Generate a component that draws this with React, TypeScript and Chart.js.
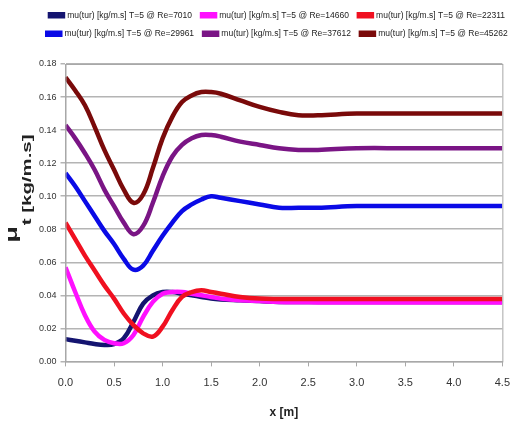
import React, { useEffect, useRef } from "react";
import { Chart, registerables } from "chart.js";

Chart.register(...registerables);

const xPositions = [0, 0.1, 0.2, 0.3, 0.4, 0.5, 0.6, 0.7, 0.8, 0.9, 1.0, 1.1, 1.2, 1.3, 1.4, 1.5, 1.6, 1.8, 2.0, 2.2, 2.4, 2.6, 3.0, 3.5, 4.0, 4.5];

const seriesLabels = [
  "mu(tur) [kg/m.s] T=5 @ Re=7010",
  "mu(tur) [kg/m.s] T=5 @ Re=14660",
  "mu(tur) [kg/m.s] T=5 @ Re=22311",
  "mu(tur) [kg/m.s] T=5 @ Re=29961",
  "mu(tur) [kg/m.s] T=5 @ Re=37612",
  "mu(tur) [kg/m.s] T=5 @ Re=45262",
];

const re7010 = [0.0135, 0.0125, 0.0115, 0.0105, 0.010, 0.0105, 0.014, 0.024, 0.035, 0.040, 0.042, 0.042, 0.041, 0.040, 0.039, 0.038, 0.0375, 0.037, 0.0365, 0.036, 0.036, 0.036, 0.036, 0.036, 0.036, 0.036];
const re14660 = [0.057, 0.042, 0.028, 0.018, 0.013, 0.011, 0.011, 0.016, 0.027, 0.036, 0.041, 0.042, 0.042, 0.041, 0.040, 0.039, 0.038, 0.037, 0.0365, 0.036, 0.0358, 0.0357, 0.0356, 0.0356, 0.0356, 0.0356];
const re22311 = [0.084, 0.074, 0.064, 0.055, 0.046, 0.038, 0.029, 0.022, 0.017, 0.015, 0.021, 0.031, 0.039, 0.042, 0.043, 0.042, 0.041, 0.039, 0.038, 0.0378, 0.0378, 0.0378, 0.0378, 0.0378, 0.0378, 0.0378];
const re29961 = [0.114, 0.106, 0.097, 0.088, 0.079, 0.071, 0.062, 0.0555, 0.058, 0.067, 0.076, 0.084, 0.091, 0.095, 0.098, 0.100, 0.099, 0.097, 0.095, 0.093, 0.093, 0.093, 0.094, 0.094, 0.094, 0.094];
const re37612 = [0.143, 0.135, 0.126, 0.116, 0.104, 0.094, 0.084, 0.077, 0.082, 0.096, 0.112, 0.124, 0.131, 0.135, 0.137, 0.137, 0.136, 0.133, 0.131, 0.129, 0.128, 0.128, 0.129, 0.129, 0.129, 0.129];
const re45262 = [0.172, 0.164, 0.155, 0.142, 0.128, 0.116, 0.104, 0.096, 0.101, 0.117, 0.135, 0.148, 0.157, 0.161, 0.163, 0.163, 0.162, 0.158, 0.154, 0.151, 0.149, 0.149, 0.150, 0.150, 0.150, 0.150];

const seriesValues = [re7010, re14660, re22311, re29961, re37612, re45262];
const seriesColors = ["#141470", "#ff10ff", "#f01020", "#0a0ae6", "#7a1585", "#7a0a0a"];
const drawOrder = [5, 2, 1, 4, 4, 4];

const yTickValues = [0, 0.02, 0.04, 0.06, 0.08, 0.1, 0.12, 0.14, 0.16, 0.18];
const xTickValues = [0, 0.5, 1.0, 1.5, 2.0, 2.5, 3.0, 3.5, 4.0, 4.5];

const FONT = "'Liberation Sans', Arial, sans-serif";

const legendGap = {
  id: "legendGap",
  beforeInit(chart: any) {
    const legend = chart.legend;
    if (!legend) return;
    const origFit = legend.fit;
    legend.fit = function () {
      origFit.call(this);
      this.height += 16;
    };
  },
};

const frameAndTitle = {
  id: "frameAndTitle",
  afterDraw(chart: any) {
    const { ctx, chartArea } = chart;
    ctx.save();
    ctx.strokeStyle = "#a8a8a8";
    ctx.lineWidth = 1;
    ctx.strokeRect(chartArea.left + 0.5, chartArea.top + 0.5, chartArea.right - chartArea.left, chartArea.bottom - chartArea.top);
    ctx.restore();
    // y axis title: mu with subscript t [kg/m.s]
    ctx.save();
    const mid = (chartArea.top + chartArea.bottom) / 2;
    ctx.translate(17, mid + 30);
    ctx.rotate(-Math.PI / 2);
    ctx.scale(1.7, 1);
    ctx.fillStyle = "#222";
    ctx.textBaseline = "alphabetic";
    ctx.textAlign = "left";
    ctx.font = "bold 16px " + FONT;
    ctx.fillText("\u03bc", 0, 0);
    const w = ctx.measureText("\u03bc").width;
    ctx.font = "bold 12px " + FONT;
    ctx.fillText("t [kg/m.s]", w + 0.5, 14);
    ctx.restore();
  },
};

export default function App() {
  const canvasRef = useRef<HTMLCanvasElement | null>(null);

  useEffect(() => {
    const canvas = canvasRef.current;
    if (!canvas) return;
    const datasets = seriesLabels.map((label, i) => ({
      label,
      data: xPositions.map((x, j) => ({ x, y: seriesValues[i][j] })),
      borderColor: seriesColors[i],
      backgroundColor: seriesColors[i],
      borderWidth: 4.5,
      pointRadius: 0,
      tension: 0.4,
      fill: false,
      order: drawOrder[i],
    }));
    const chart = new Chart(canvas, {
      type: "line",
      data: { datasets },
      options: {
        animation: false,
        responsive: false,
        maintainAspectRatio: false,
        layout: { padding: { left: 35, right: 0, top: 1, bottom: 8 } },
        plugins: {
          legend: {
            position: "top",
            labels: {
              font: { family: FONT, size: 8.5 },
              color: "#222",
              boxWidth: 13,
              boxHeight: 2,
              padding: 10,
              sort: (a: any, b: any) => a.datasetIndex - b.datasetIndex,
            },
          },
          tooltip: { enabled: false },
        },
        scales: {
          x: {
            type: "linear",
            min: 0,
            max: 4.5,
            afterBuildTicks: (axis: any) => {
              axis.ticks = xTickValues.map((v) => ({ value: v }));
            },
            ticks: {
              callback: (v: any) => Number(v).toFixed(1),
              font: { family: FONT, size: 11 },
              color: "#333",
              padding: 10,
            },
            grid: { drawOnChartArea: false, color: "#a8a8a8", tickLength: 5 },
            border: { color: "#a8a8a8" },
            title: {
              display: true,
              text: "x [m]",
              font: { family: FONT, size: 12, weight: "bold" },
              color: "#222",
              padding: { top: 6 },
            },
          },
          y: {
            type: "linear",
            min: 0,
            max: 0.18,
            afterBuildTicks: (axis: any) => {
              axis.ticks = yTickValues.map((v) => ({ value: v }));
            },
            ticks: {
              callback: (v: any) => Number(v).toFixed(2),
              font: { family: FONT, size: 9 },
              color: "#333",
              padding: 4,
            },
            grid: { color: "#b4b4b4", lineWidth: 1.5, tickLength: 5 },
            border: { color: "#a8a8a8" },
          },
        },
      },
      plugins: [legendGap, frameAndTitle],
    });
    return () => chart.destroy();
  }, []);

  return (
    <div style={{ position: "absolute", left: 0, top: 0, width: 520, height: 432, background: "#fff" }}>
      <canvas ref={canvasRef} width={520} height={432} style={{ width: 520, height: 432 }} />
    </div>
  );
}
